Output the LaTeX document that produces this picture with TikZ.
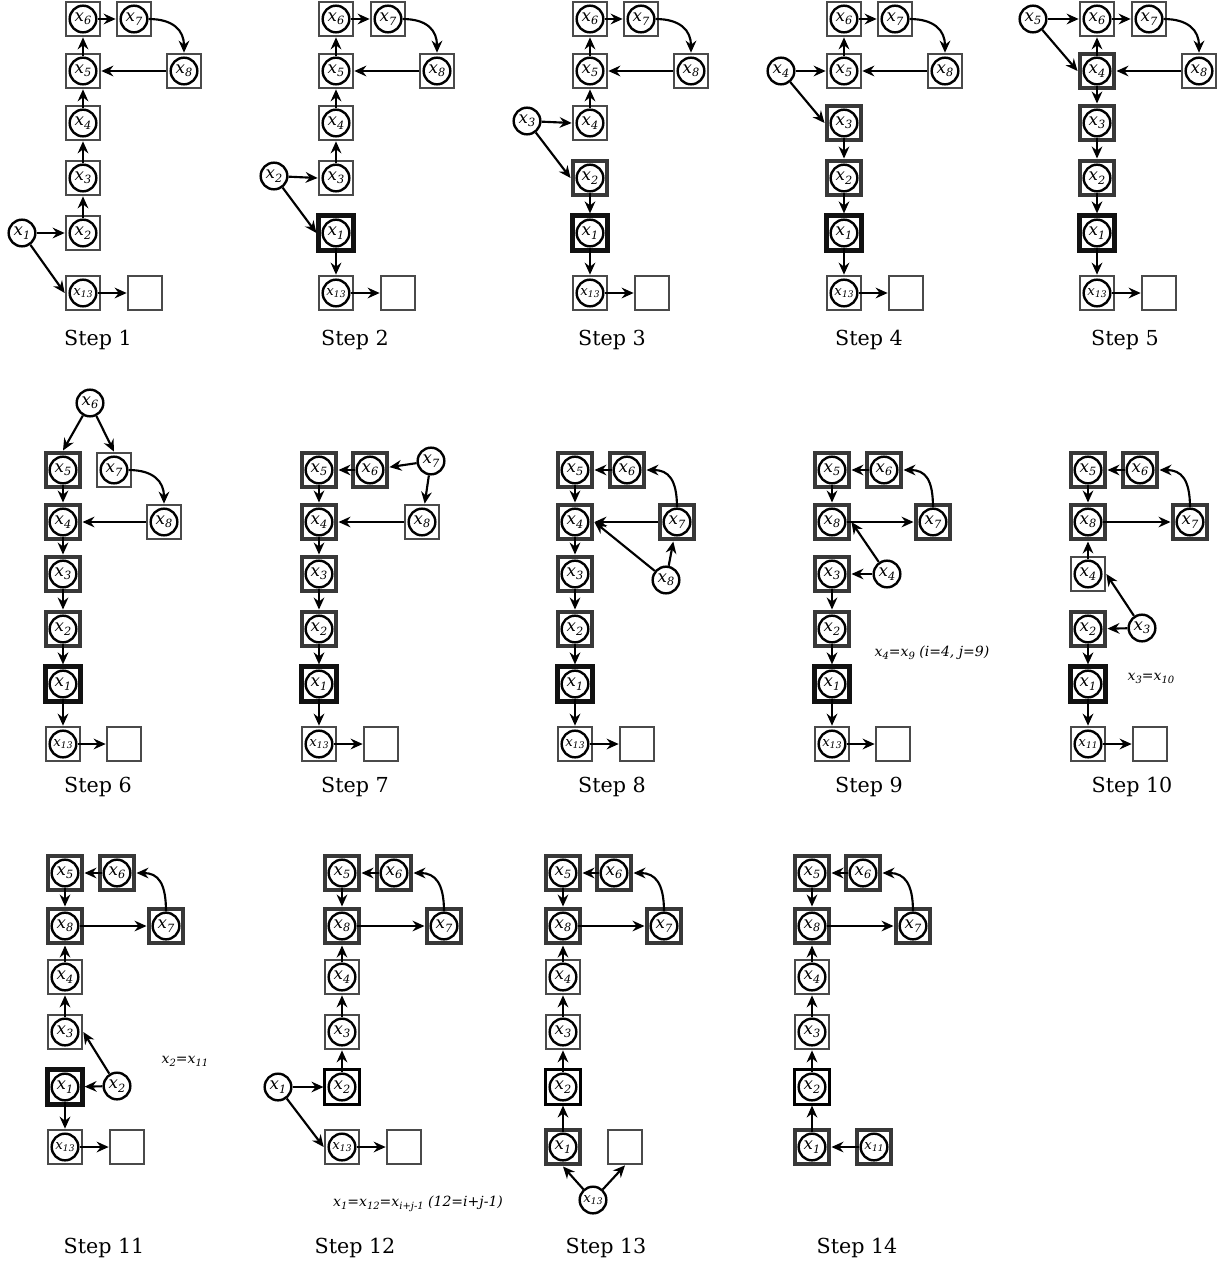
\documentclass[tikz,border=0pt]{standalone}
\usepackage{fontspec}
\setmainfont{DejaVu Serif}
\usetikzlibrary{arrows.meta}
\definecolor{nb}{HTML}{4A4A4A}
\definecolor{tb}{HTML}{383838}
\definecolor{kb}{HTML}{111111}
\newcommand{\Xl}[1]{\textit{x}\raisebox{-0.4ex}{\fontsize{8.5}{8.5}\selectfont\textit{#1}}}
\newcommand{\Xs}[1]{{\fontsize{10}{10}\selectfont\textit{x}\raisebox{-0.4ex}{\fontsize{6.8}{6.8}\selectfont\textit{#1}}}}
\newcommand{\Al}[1]{\textit{x}\raisebox{-0.4ex}{\fontsize{7.5}{7.5}\selectfont\textit{#1}}}
\newcommand{\Bx}[6]{\node[#6] (p#1s#2) at (#3,#4) {}; \node[cir] (p#1c#2) at (#3,#4) {#5};}
\tikzset{
 boxbase/.style={rectangle, minimum size=26pt, inner sep=0pt, fill=white},
 nbox/.style={boxbase, draw=nb, line width=1.5pt},
 tbox/.style={boxbase, draw=tb, line width=3.2pt},
 kbox/.style={boxbase, draw=kb, line width=3.4pt},
 bbox/.style={boxbase, draw=black, line width=1.8pt},
 cir/.style={circle, draw=black, line width=1.8pt, fill=white, minimum size=20pt, inner sep=0pt, font=\fontsize{12.5}{12.5}\selectfont},
 arr/.style={draw=black, line width=1.6pt, -{Stealth[length=9pt,width=8pt,inset=3pt]}},
 steplab/.style={font=\fontsize{15.5}{15.5}\selectfont},
 note/.style={font=\fontsize{10.5}{12}\selectfont\itshape}
}
\begin{document}
\begin{tikzpicture}[x=0.75pt,y=-0.75pt]
\fill[white] (0,0) rectangle (1225,1268);
\useasboundingbox (0,0) rectangle (1225,1268);

% ---------------- Step 1
\Bx{1}{6}{83}{19}{\Xl{6}}{nbox}
\Bx{1}{7}{134}{19}{\Xl{7}}{nbox}
\Bx{1}{8}{184}{71}{\Xl{8}}{nbox}
\Bx{1}{5}{83}{71}{\Xl{5}}{nbox}
\Bx{1}{4}{83}{123}{\Xl{4}}{nbox}
\Bx{1}{3}{83}{178}{\Xl{3}}{nbox}
\Bx{1}{2}{83}{233}{\Xl{2}}{nbox}
\Bx{1}{13}{83}{293}{\Xs{13}}{nbox}
\node[cir] (p1c1) at (22,233) {\Xl{1}};
\node[nbox] (p1e) at (145,293) {};
\draw[arr] (p1c6) -- (p1s7);
\draw[arr] (p1c7.east) .. controls +(25,0) and +(0,-22) .. (p1s8.north);
\draw[arr] (p1s8) -- (p1s5);
\draw[arr] (p1c5) -- (p1s6);
\draw[arr] (p1c4) -- (p1s5);
\draw[arr] (p1c3) -- (p1s4);
\draw[arr] (p1c2) -- (p1s3);
\draw[arr] (p1c1) -- (p1s2);
\draw[arr] (p1c1) -- (p1s13.west);
\draw[arr] (p1c13) -- (p1e);
\node[steplab] (p1lab) at (98,340) {Step 1};

% ---------------- Step 2
\Bx{2}{6}{336}{19}{\Xl{6}}{nbox}
\Bx{2}{7}{388}{19}{\Xl{7}}{nbox}
\Bx{2}{8}{437}{71}{\Xl{8}}{nbox}
\Bx{2}{5}{336}{71}{\Xl{5}}{nbox}
\Bx{2}{4}{336}{123}{\Xl{4}}{nbox}
\Bx{2}{3}{336}{178}{\Xl{3}}{nbox}
\Bx{2}{1}{336}{233}{\Xl{1}}{kbox}
\Bx{2}{13}{336}{293}{\Xs{13}}{nbox}
\node[cir] (p2c2) at (274,176) {\Xl{2}};
\node[nbox] (p2e) at (398,293) {};
\draw[arr] (p2c6) -- (p2s7);
\draw[arr] (p2c7.east) .. controls +(25,0) and +(0,-22) .. (p2s8.north);
\draw[arr] (p2s8) -- (p2s5);
\draw[arr] (p2c5) -- (p2s6);
\draw[arr] (p2c4) -- (p2s5);
\draw[arr] (p2c3) -- (p2s4);
\draw[arr] (p2c2) -- (p2s3.west);
\draw[arr] (p2c2) -- (p2s1.west);
\draw[arr] (p2c1) -- (p2s13);
\draw[arr] (p2c13) -- (p2e);
\node[steplab] (p2lab) at (355,340) {Step 2};

% ---------------- Step 3
\Bx{3}{6}{590}{19}{\Xl{6}}{nbox}
\Bx{3}{7}{641}{19}{\Xl{7}}{nbox}
\Bx{3}{8}{691}{71}{\Xl{8}}{nbox}
\Bx{3}{5}{590}{71}{\Xl{5}}{nbox}
\Bx{3}{4}{590}{123}{\Xl{4}}{nbox}
\Bx{3}{2}{590}{178}{\Xl{2}}{tbox}
\Bx{3}{1}{590}{233}{\Xl{1}}{kbox}
\Bx{3}{13}{590}{293}{\Xs{13}}{nbox}
\node[cir] (p3c3) at (527,121) {\Xl{3}};
\node[nbox] (p3e) at (652,293) {};
\draw[arr] (p3c6) -- (p3s7);
\draw[arr] (p3c7.east) .. controls +(25,0) and +(0,-22) .. (p3s8.north);
\draw[arr] (p3s8) -- (p3s5);
\draw[arr] (p3c5) -- (p3s6);
\draw[arr] (p3c4) -- (p3s5);
\draw[arr] (p3c3) -- (p3s4.west);
\draw[arr] (p3c3) -- (p3s2.west);
\draw[arr] (p3c2) -- (p3s1);
\draw[arr] (p3c1) -- (p3s13);
\draw[arr] (p3c13) -- (p3e);
\node[steplab] (p3lab) at (612,340) {Step 3};

% ---------------- Step 4
\Bx{4}{6}{844}{19}{\Xl{6}}{nbox}
\Bx{4}{7}{895}{19}{\Xl{7}}{nbox}
\Bx{4}{8}{945}{71}{\Xl{8}}{nbox}
\Bx{4}{5}{844}{71}{\Xl{5}}{nbox}
\Bx{4}{3}{844}{123}{\Xl{3}}{tbox}
\Bx{4}{2}{844}{178}{\Xl{2}}{tbox}
\Bx{4}{1}{844}{233}{\Xl{1}}{kbox}
\Bx{4}{13}{844}{293}{\Xs{13}}{nbox}
\node[cir] (p4c4) at (781,71) {\Xl{4}};
\node[nbox] (p4e) at (906,293) {};
\draw[arr] (p4c6) -- (p4s7);
\draw[arr] (p4c7.east) .. controls +(25,0) and +(0,-22) .. (p4s8.north);
\draw[arr] (p4s8) -- (p4s5);
\draw[arr] (p4c5) -- (p4s6);
\draw[arr] (p4c4) -- (p4s5.west);
\draw[arr] (p4c4) -- (p4s3.west);
\draw[arr] (p4c3) -- (p4s2);
\draw[arr] (p4c2) -- (p4s1);
\draw[arr] (p4c1) -- (p4s13);
\draw[arr] (p4c13) -- (p4e);
\node[steplab] (p4lab) at (869,340) {Step 4};

% ---------------- Step 5
\Bx{5}{6}{1097}{19}{\Xl{6}}{nbox}
\Bx{5}{7}{1149}{19}{\Xl{7}}{nbox}
\Bx{5}{8}{1199}{71}{\Xl{8}}{nbox}
\Bx{5}{4}{1097}{71}{\Xl{4}}{tbox}
\Bx{5}{3}{1097}{123}{\Xl{3}}{tbox}
\Bx{5}{2}{1097}{178}{\Xl{2}}{tbox}
\Bx{5}{1}{1097}{233}{\Xl{1}}{kbox}
\Bx{5}{13}{1097}{293}{\Xs{13}}{nbox}
\node[cir] (p5c5) at (1033,19) {\Xl{5}};
\node[nbox] (p5e) at (1159,293) {};
\draw[arr] (p5c6) -- (p5s7);
\draw[arr] (p5c7.east) .. controls +(25,0) and +(0,-22) .. (p5s8.north);
\draw[arr] (p5s8) -- (p5s4);
\draw[arr] (p5c4) -- (p5s6);
\draw[arr] (p5c5) -- (p5s6.west);
\draw[arr] (p5c5) -- (p5s4.west);
\draw[arr] (p5c4) -- (p5s3);
\draw[arr] (p5c3) -- (p5s2);
\draw[arr] (p5c2) -- (p5s1);
\draw[arr] (p5c1) -- (p5s13);
\draw[arr] (p5c13) -- (p5e);
\node[steplab] (p5lab) at (1125,340) {Step 5};

% ---------------- Step 6
\node[cir] (p6c6) at (90,403) {\Xl{6}};
\Bx{6}{5}{63}{470}{\Xl{5}}{tbox}
\Bx{6}{7}{114}{470}{\Xl{7}}{nbox}
\Bx{6}{8}{164}{522}{\Xl{8}}{nbox}
\Bx{6}{4}{63}{522}{\Xl{4}}{tbox}
\Bx{6}{3}{63}{574}{\Xl{3}}{tbox}
\Bx{6}{2}{63}{629}{\Xl{2}}{tbox}
\Bx{6}{1}{63}{684}{\Xl{1}}{kbox}
\Bx{6}{13}{63}{744}{\Xs{13}}{nbox}
\node[nbox] (p6e) at (124,744) {};
\draw[arr] (p6c6) -- (p6s5.north);
\draw[arr] (p6c6) -- (p6s7.north);
\draw[arr] (p6c7.east) .. controls +(25,0) and +(0,-22) .. (p6s8.north);
\draw[arr] (p6s8) -- (p6s4);
\draw[arr] (p6c5) -- (p6s4);
\draw[arr] (p6c4) -- (p6s3);
\draw[arr] (p6c3) -- (p6s2);
\draw[arr] (p6c2) -- (p6s1);
\draw[arr] (p6c1) -- (p6s13);
\draw[arr] (p6c13) -- (p6e);
\node[steplab] (p6lab) at (98,787) {Step 6};

% ---------------- Step 7
\Bx{7}{5}{319}{470}{\Xl{5}}{tbox}
\Bx{7}{6}{370}{470}{\Xl{6}}{tbox}
\node[cir] (p7c7) at (431,461) {\Xl{7}};
\Bx{7}{8}{422}{522}{\Xl{8}}{nbox}
\Bx{7}{4}{319}{522}{\Xl{4}}{tbox}
\Bx{7}{3}{319}{574}{\Xl{3}}{tbox}
\Bx{7}{2}{319}{629}{\Xl{2}}{tbox}
\Bx{7}{1}{319}{684}{\Xl{1}}{kbox}
\Bx{7}{13}{319}{744}{\Xs{13}}{nbox}
\node[nbox] (p7e) at (381,744) {};
\draw[arr] (p7c6) -- (p7s5);
\draw[arr] (p7c7) -- (p7s6);
\draw[arr] (p7c7) -- (p7s8);
\draw[arr] (p7s8) -- (p7s4);
\draw[arr] (p7c5) -- (p7s4);
\draw[arr] (p7c4) -- (p7s3);
\draw[arr] (p7c3) -- (p7s2);
\draw[arr] (p7c2) -- (p7s1);
\draw[arr] (p7c1) -- (p7s13);
\draw[arr] (p7c13) -- (p7e);
\node[steplab] (p7lab) at (355,787) {Step 7};

% ---------------- Step 8
\Bx{8}{5}{575}{470}{\Xl{5}}{tbox}
\Bx{8}{6}{627}{470}{\Xl{6}}{tbox}
\Bx{8}{7}{677}{522}{\Xl{7}}{tbox}
\node[cir] (p8c8) at (666,580) {\Xl{8}};
\Bx{8}{4}{575}{522}{\Xl{4}}{tbox}
\Bx{8}{3}{575}{574}{\Xl{3}}{tbox}
\Bx{8}{2}{575}{629}{\Xl{2}}{tbox}
\Bx{8}{1}{575}{684}{\Xl{1}}{kbox}
\Bx{8}{13}{575}{744}{\Xs{13}}{nbox}
\node[nbox] (p8e) at (637,744) {};
\draw[arr] (p8c6) -- (p8s5);
\draw[arr] (p8c7.north) .. controls +(0,-28) and +(22,0) .. (p8s6.east);
\draw[arr] (p8s7) -- (p8s4);
\draw[arr] (p8c8) -- (p8s4.east);
\draw[arr] (p8c8) -- (p8s7);
\draw[arr] (p8c5) -- (p8s4);
\draw[arr] (p8c4) -- (p8s3);
\draw[arr] (p8c3) -- (p8s2);
\draw[arr] (p8c2) -- (p8s1);
\draw[arr] (p8c1) -- (p8s13);
\draw[arr] (p8c13) -- (p8e);
\node[steplab] (p8lab) at (612,787) {Step 8};

% ---------------- Step 9
\Bx{9}{5}{832}{470}{\Xl{5}}{tbox}
\Bx{9}{6}{884}{470}{\Xl{6}}{tbox}
\Bx{9}{7}{933}{522}{\Xl{7}}{tbox}
\Bx{9}{8}{832}{522}{\Xl{8}}{tbox}
\node[cir] (p9c4) at (887,574) {\Xl{4}};
\Bx{9}{3}{832}{574}{\Xl{3}}{tbox}
\Bx{9}{2}{832}{629}{\Xl{2}}{tbox}
\Bx{9}{1}{832}{684}{\Xl{1}}{kbox}
\Bx{9}{13}{832}{744}{\Xs{13}}{nbox}
\node[nbox] (p9e) at (893,744) {};
\draw[arr] (p9c6) -- (p9s5);
\draw[arr] (p9c7.north) .. controls +(0,-28) and +(22,0) .. (p9s6.east);
\draw[arr] (p9c5) -- (p9s8);
\draw[arr] (p9c8) -- (p9s7);
\draw[arr] (p9c4) -- (p9s3);
\draw[arr] (p9c4) -- (p9s8.east);
\draw[arr] (p9c3) -- (p9s2);
\draw[arr] (p9c2) -- (p9s1);
\draw[arr] (p9c1) -- (p9s13);
\draw[arr] (p9c13) -- (p9e);
\node[note] (p9note) at (932,653) {\Al{4}=\Al{9} (i=4, j=9)};
\node[steplab] (p9lab) at (869,787) {Step 9};

% ---------------- Step 10
\Bx{10}{5}{1088}{470}{\Xl{5}}{tbox}
\Bx{10}{6}{1140}{470}{\Xl{6}}{tbox}
\Bx{10}{7}{1190}{522}{\Xl{7}}{tbox}
\Bx{10}{8}{1088}{522}{\Xl{8}}{tbox}
\Bx{10}{4}{1088}{574}{\Xl{4}}{nbox}
\node[cir] (p10c3) at (1142,628) {\Xl{3}};
\Bx{10}{2}{1088}{629}{\Xl{2}}{tbox}
\Bx{10}{1}{1088}{684}{\Xl{1}}{kbox}
\Bx{10}{11}{1088}{744}{\Xs{11}}{nbox}
\node[nbox] (p10e) at (1150,744) {};
\draw[arr] (p10c6) -- (p10s5);
\draw[arr] (p10c7.north) .. controls +(0,-28) and +(22,0) .. (p10s6.east);
\draw[arr] (p10c5) -- (p10s8);
\draw[arr] (p10c8) -- (p10s7);
\draw[arr] (p10c4) -- (p10s8);
\draw[arr] (p10c3) -- (p10s2);
\draw[arr] (p10c3) -- (p10s4.east);
\draw[arr] (p10c2) -- (p10s1);
\draw[arr] (p10c1) -- (p10s11);
\draw[arr] (p10c11) -- (p10e);
\node[note] (p10note) at (1151,678) {\Al{3}=\Al{10}};
\node[steplab] (p10lab) at (1132,787) {Step 10};

% ---------------- Step 11
\Bx{11}{5}{65}{873}{\Xl{5}}{tbox}
\Bx{11}{6}{117}{873}{\Xl{6}}{tbox}
\Bx{11}{7}{166}{926}{\Xl{7}}{tbox}
\Bx{11}{8}{65}{926}{\Xl{8}}{tbox}
\Bx{11}{4}{65}{977}{\Xl{4}}{nbox}
\Bx{11}{3}{65}{1032}{\Xl{3}}{nbox}
\Bx{11}{1}{65}{1087}{\Xl{1}}{kbox}
\node[cir] (p11c2) at (117,1086) {\Xl{2}};
\Bx{11}{13}{65}{1147}{\Xs{13}}{nbox}
\node[nbox] (p11e) at (127,1147) {};
\draw[arr] (p11c6) -- (p11s5);
\draw[arr] (p11c7.north) .. controls +(0,-28) and +(22,0) .. (p11s6.east);
\draw[arr] (p11c5) -- (p11s8);
\draw[arr] (p11c8) -- (p11s7);
\draw[arr] (p11c4) -- (p11s8);
\draw[arr] (p11c3) -- (p11s4);
\draw[arr] (p11c2) -- (p11s1);
\draw[arr] (p11c2) -- (p11s3.east);
\draw[arr] (p11c1) -- (p11s13);
\draw[arr] (p11c13) -- (p11e);
\node[note] (p11note) at (185,1061) {\Al{2}=\Al{11}};
\node[steplab] (p11lab) at (104,1248) {Step 11};

% ---------------- Step 12
\Bx{12}{5}{342}{873}{\Xl{5}}{tbox}
\Bx{12}{6}{394}{873}{\Xl{6}}{tbox}
\Bx{12}{7}{444}{926}{\Xl{7}}{tbox}
\Bx{12}{8}{342}{926}{\Xl{8}}{tbox}
\Bx{12}{4}{342}{977}{\Xl{4}}{nbox}
\Bx{12}{3}{342}{1032}{\Xl{3}}{nbox}
\Bx{12}{2}{342}{1087}{\Xl{2}}{bbox}
\node[cir] (p12c1) at (278,1087) {\Xl{1}};
\Bx{12}{13}{342}{1147}{\Xs{13}}{nbox}
\node[nbox] (p12e) at (404,1147) {};
\draw[arr] (p12c6) -- (p12s5);
\draw[arr] (p12c7.north) .. controls +(0,-28) and +(22,0) .. (p12s6.east);
\draw[arr] (p12c5) -- (p12s8);
\draw[arr] (p12c8) -- (p12s7);
\draw[arr] (p12c4) -- (p12s8);
\draw[arr] (p12c3) -- (p12s4);
\draw[arr] (p12c2) -- (p12s3);
\draw[arr] (p12c1) -- (p12s2);
\draw[arr] (p12c1) -- (p12s13.west);
\draw[arr] (p12c13) -- (p12e);
\node[note] (p12note) at (418,1204) {\Al{1}=\Al{12}=\Al{i+j-1} (12=i+j-1)};
\node[steplab] (p12lab) at (355,1248) {Step 12};

% ---------------- Step 13
\Bx{13}{5}{563}{873}{\Xl{5}}{tbox}
\Bx{13}{6}{614}{873}{\Xl{6}}{tbox}
\Bx{13}{7}{664}{926}{\Xl{7}}{tbox}
\Bx{13}{8}{563}{926}{\Xl{8}}{tbox}
\Bx{13}{4}{563}{977}{\Xl{4}}{nbox}
\Bx{13}{3}{563}{1032}{\Xl{3}}{nbox}
\Bx{13}{2}{563}{1087}{\Xl{2}}{bbox}
\Bx{13}{1}{563}{1147}{\Xl{1}}{tbox}
\node[nbox] (p13e) at (625,1147) {};
\node[cir] (p13c13) at (593,1200) {\Xs{13}};
\draw[arr] (p13c6) -- (p13s5);
\draw[arr] (p13c7.north) .. controls +(0,-28) and +(22,0) .. (p13s6.east);
\draw[arr] (p13c5) -- (p13s8);
\draw[arr] (p13c8) -- (p13s7);
\draw[arr] (p13c4) -- (p13s8);
\draw[arr] (p13c3) -- (p13s4);
\draw[arr] (p13c2) -- (p13s3);
\draw[arr] (p13c1) -- (p13s2);
\draw[arr] (p13c13) -- (p13s1.south);
\draw[arr] (p13c13) -- (p13e.south);
\node[steplab] (p13lab) at (606,1248) {Step 13};

% ---------------- Step 14
\Bx{14}{5}{812}{873}{\Xl{5}}{tbox}
\Bx{14}{6}{863}{873}{\Xl{6}}{tbox}
\Bx{14}{7}{913}{926}{\Xl{7}}{tbox}
\Bx{14}{8}{812}{926}{\Xl{8}}{tbox}
\Bx{14}{4}{812}{977}{\Xl{4}}{nbox}
\Bx{14}{3}{812}{1032}{\Xl{3}}{nbox}
\Bx{14}{2}{812}{1087}{\Xl{2}}{bbox}
\Bx{14}{1}{812}{1147}{\Xl{1}}{tbox}
\Bx{14}{11}{874}{1147}{\Xs{11}}{tbox}
\draw[arr] (p14c6) -- (p14s5);
\draw[arr] (p14c7.north) .. controls +(0,-28) and +(22,0) .. (p14s6.east);
\draw[arr] (p14c5) -- (p14s8);
\draw[arr] (p14c8) -- (p14s7);
\draw[arr] (p14c4) -- (p14s8);
\draw[arr] (p14c3) -- (p14s4);
\draw[arr] (p14c2) -- (p14s3);
\draw[arr] (p14c1) -- (p14s2);
\draw[arr] (p14c11) -- (p14s1);
\node[steplab] (p14lab) at (857,1248) {Step 14};
\end{tikzpicture}
\end{document}
